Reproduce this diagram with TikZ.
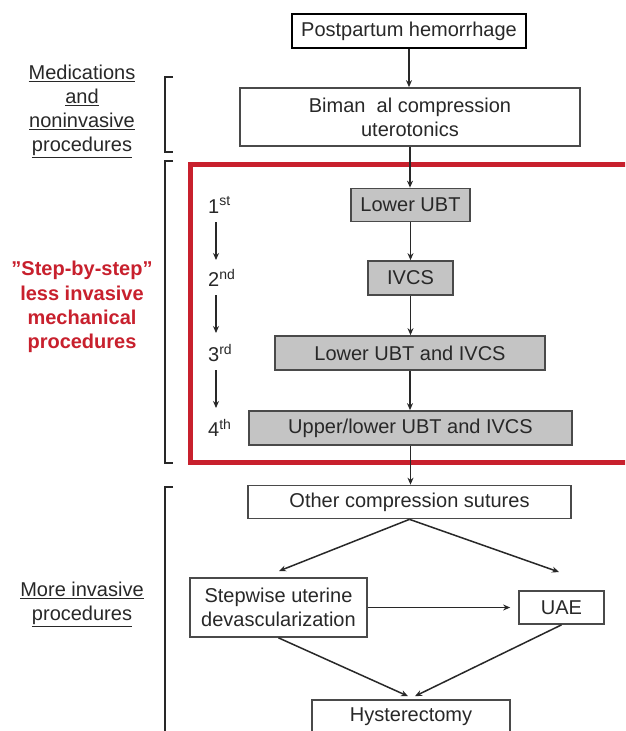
\documentclass[tikz,border=0pt]{standalone}
\usepackage{fontspec}
\setmainfont{Liberation Sans}
\usetikzlibrary{arrows.meta}
\definecolor{dk}{HTML}{282828}
\definecolor{boxc}{HTML}{4A4A4A}
\definecolor{redb}{HTML}{C8202D}
\definecolor{grayfill}{HTML}{C4C4C4}
\begin{document}
\begin{tikzpicture}[x=1pt,y=-1pt,
  every node/.style={font=\fontsize{20}{24}\selectfont, text=dk},
  box/.style={draw=boxc, line width=1.7pt, fill=white, inner sep=0pt, align=center},
  gbox/.style={box, fill=grayfill},
  arr/.style={-{Stealth[length=7pt,width=6pt]}, line width=1.5pt, draw=dk},
  brk/.style={line width=1.4pt, draw=dk},
  steplbl/.style={anchor=west, inner sep=0pt},
  side/.style={align=center, inner sep=0pt}]
\clip (0,0) rectangle (625,731);
\fill[white] (0,0) rectangle (625,731);

% red frame
\draw[redb, line width=5pt] (640,164.5) -- (190,164.5) -- (190,462) -- (640,462);

% main boxes
\node[box, draw=black, line width=2.4pt, minimum width=234pt, minimum height=34pt] (pph) at (409,31) {Postpartum hemorrhage};
\node[box, minimum width=340pt, minimum height=58pt] (biman) at (410,117) {Biman\ \ al compression\\uterotonics};
\node[gbox, minimum width=119pt, minimum height=33pt] (lubt) at (410.5,205) {Lower UBT};
\node[gbox, minimum width=85pt, minimum height=34pt] (ivcs) at (410.5,278) {IVCS};
\node[gbox, minimum width=270pt, minimum height=34pt] (lubtivcs) at (410,353) {Lower UBT and IVCS};
\node[gbox, minimum width=323pt, minimum height=34pt] (ulubt) at (410.5,428) {Upper/lower UBT and IVCS};
\node[box, minimum width=323pt, minimum height=33pt] (other) at (409.5,502) {Other compression sutures};
\node[box, minimum width=177pt, minimum height=59pt] (stepwise) at (278.5,607.5) {Stepwise uterine\\devascularization};
\node[box, minimum width=85pt, minimum height=33pt] (uae) at (561.5,607.5) {UAE};
\node[box, minimum width=198pt, minimum height=34pt] (hyst) at (411,717) {Hysterectomy};

% connectors
\draw[arr] (pph.south) -- (pph.south |- biman.north);
\draw[arr] (biman.south) -- (biman.south |- lubt.north);
\draw[arr] (lubt.south) -- (lubt.south |- ivcs.north);
\draw[arr] (ivcs.south) -- (ivcs.south |- lubtivcs.north);
\draw[arr] (lubtivcs.south) -- (lubtivcs.south |- ulubt.north);
\draw[arr] (ulubt.south) -- (ulubt.south |- other.north);
\coordinate (ol) at (279,571);
\coordinate (orr) at (559,572);
\draw[arr] (other.south) -- (ol);
\draw[arr] (other.south) -- (orr);
\draw[arr, shorten >=8pt] (stepwise.east) -- (uae.west);
\draw[arr] (stepwise.south) -- ([xshift=-3pt,yshift=3pt]hyst.north);
\draw[arr] (uae.south) -- ([xshift=4pt,yshift=3pt]hyst.north);

% step labels
\node[steplbl] (s1) at (208,205) {1\textsuperscript{st}};
\node[steplbl] (s2) at (208,278) {2\textsuperscript{nd}};
\node[steplbl] (s3) at (208,353) {3\textsuperscript{rd}};
\node[steplbl] (s4) at (208,428) {4\textsuperscript{th}};
\coordinate (a1) at (216,222);
\coordinate (b1) at (216,260);
\coordinate (a2) at (216,295);
\coordinate (b2) at (216,333);
\coordinate (a3) at (216,370);
\coordinate (b3) at (216,408);
\draw[arr] (a1) -- (b1);
\draw[arr] (a2) -- (b2);
\draw[arr] (a3) -- (b3);

% brackets
\draw[brk] (173,77) -- (165,77) -- (165,152) -- (173,152);
\draw[brk] (173,161) -- (165,161) -- (165,463) -- (173,463);
\draw[brk] (173,487) -- (165,487) -- (165,740);

% side labels
\node[side] (med) at (82,111) {\underline{Medications}\\\underline{and}\\\underline{noninvasive}\\\underline{procedures}};
\node[side, text=redb, font=\fontsize{20}{24.3}\selectfont\bfseries] (sbs) at (82,307) {”Step-by-step”\\less invasive\\mechanical\\procedures};
\node[side] (more) at (82,604.5) {\underline{More invasive}\\\underline{procedures}};
\end{tikzpicture}
\end{document}
